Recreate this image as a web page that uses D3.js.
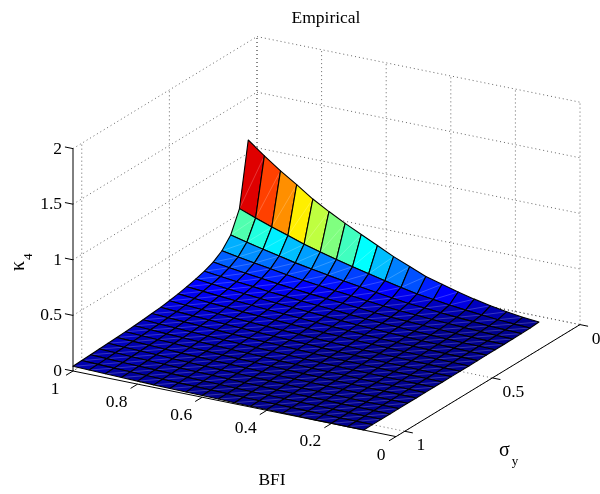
<!DOCTYPE html>
<meta charset='utf-8'>
<style>
  body { margin: 0; background: #fff; }
  svg { filter: blur(0.35px); }
  text { font-family: 'Liberation Serif', serif; fill: #000; }
</style>
<body>
<script src='https://d3js.org/d3.v7.min.js'></script>
<script>
  const bfiValues = [1, 0.95, 0.9, 0.85, 0.8, 0.75, 0.7, 0.65, 0.6, 0.55, 0.5, 0.45, 0.4, 0.35, 0.3, 0.25, 0.2, 0.15, 0.1];
  const sigmaValues = [0.05, 0.1, 0.15, 0.2, 0.25, 0.3, 0.35, 0.4, 0.45, 0.5, 0.55, 0.6, 0.65, 0.7, 0.75, 0.8, 0.85, 0.9, 0.95, 1, 1.05];

  // one row per sigma, one column per BFI
  const kappaValues = [
    [1.118, 1.005, 0.9, 0.805, 0.705, 0.622, 0.545, 0.475, 0.405, 0.335, 0.275, 0.215, 0.175, 0.135, 0.1, 0.07, 0.045, 0.025, 0.012],
    [0.549, 0.494, 0.442, 0.395, 0.346, 0.306, 0.268, 0.233, 0.199, 0.165, 0.135, 0.106, 0.086, 0.066, 0.049, 0.035, 0.022, 0.012, 0.006],
    [0.36, 0.324, 0.29, 0.259, 0.227, 0.201, 0.176, 0.153, 0.131, 0.108, 0.089, 0.069, 0.057, 0.044, 0.032, 0.023, 0.014, 0.008, 0.004],
    [0.266, 0.239, 0.214, 0.192, 0.168, 0.148, 0.13, 0.113, 0.097, 0.08, 0.065, 0.051, 0.042, 0.032, 0.024, 0.017, 0.011, 0.006, 0.003],
    [0.212, 0.191, 0.171, 0.153, 0.134, 0.118, 0.103, 0.09, 0.077, 0.064, 0.052, 0.041, 0.033, 0.026, 0.019, 0.013, 0.008, 0.005, 0.002],
    [0.178, 0.16, 0.143, 0.128, 0.112, 0.099, 0.087, 0.076, 0.065, 0.053, 0.044, 0.034, 0.028, 0.022, 0.016, 0.011, 0.007, 0.004, 0.002],
    [0.155, 0.14, 0.125, 0.112, 0.098, 0.086, 0.076, 0.066, 0.056, 0.047, 0.038, 0.03, 0.024, 0.019, 0.014, 0.01, 0.006, 0.003, 0.002],
    [0.135, 0.122, 0.109, 0.097, 0.085, 0.075, 0.066, 0.057, 0.049, 0.041, 0.033, 0.026, 0.021, 0.016, 0.012, 0.009, 0.005, 0.003, 0.001],
    [0.118, 0.106, 0.095, 0.085, 0.074, 0.066, 0.058, 0.05, 0.043, 0.035, 0.029, 0.023, 0.019, 0.014, 0.011, 0.007, 0.005, 0.003, 0.001],
    [0.104, 0.094, 0.084, 0.075, 0.066, 0.058, 0.051, 0.044, 0.038, 0.031, 0.026, 0.02, 0.016, 0.013, 0.009, 0.007, 0.004, 0.002, 0.001],
    [0.093, 0.084, 0.075, 0.067, 0.059, 0.052, 0.045, 0.04, 0.034, 0.028, 0.023, 0.018, 0.015, 0.011, 0.008, 0.006, 0.004, 0.002, 0.001],
    [0.085, 0.077, 0.069, 0.061, 0.054, 0.047, 0.041, 0.036, 0.031, 0.026, 0.021, 0.016, 0.013, 0.01, 0.008, 0.005, 0.003, 0.002, 0.001],
    [0.077, 0.069, 0.062, 0.055, 0.049, 0.043, 0.038, 0.033, 0.028, 0.023, 0.019, 0.015, 0.012, 0.009, 0.007, 0.005, 0.003, 0.002, 0.001],
    [0.071, 0.064, 0.057, 0.051, 0.045, 0.04, 0.035, 0.03, 0.026, 0.021, 0.017, 0.014, 0.011, 0.009, 0.006, 0.004, 0.003, 0.002, 0.001],
    [0.066, 0.059, 0.053, 0.048, 0.042, 0.037, 0.032, 0.028, 0.024, 0.02, 0.016, 0.013, 0.01, 0.008, 0.006, 0.004, 0.003, 0.001, 0.001],
    [0.062, 0.056, 0.05, 0.045, 0.039, 0.035, 0.03, 0.026, 0.023, 0.019, 0.015, 0.012, 0.01, 0.008, 0.006, 0.004, 0.002, 0.001, 0.001],
    [0.058, 0.052, 0.047, 0.042, 0.037, 0.032, 0.028, 0.025, 0.021, 0.017, 0.014, 0.011, 0.009, 0.007, 0.005, 0.004, 0.002, 0.001, 0.001],
    [0.054, 0.049, 0.044, 0.039, 0.034, 0.03, 0.026, 0.023, 0.02, 0.016, 0.013, 0.01, 0.008, 0.007, 0.005, 0.003, 0.002, 0.001, 0.001],
    [0.05, 0.045, 0.04, 0.036, 0.032, 0.028, 0.024, 0.021, 0.018, 0.015, 0.012, 0.01, 0.008, 0.006, 0.005, 0.003, 0.002, 0.001, 0.001],
    [0.046, 0.041, 0.037, 0.033, 0.029, 0.026, 0.022, 0.02, 0.017, 0.014, 0.011, 0.009, 0.007, 0.006, 0.004, 0.003, 0.002, 0.001, 0.001],
    [0.042, 0.038, 0.034, 0.03, 0.027, 0.023, 0.02, 0.018, 0.015, 0.013, 0.01, 0.008, 0.007, 0.005, 0.004, 0.003, 0.002, 0.001, 0.001]
  ];

  const bfiTicks = [1, 0.8, 0.6, 0.4, 0.2, 0];
  const sigmaTicks = [1, 0.5, 0];
  const kappaTicks = [0, 0.5, 1, 1.5, 2];

  const width = 600;
  const height = 494;
  const origin = { x: 73, y: 371 };

  // orthographic view: each data axis adds its own screen offset
  const bfiX = d3.scaleLinear().domain([1, 0]).range([0, 323]);
  const bfiY = d3.scaleLinear().domain([1, 0]).range([0, 65.6]);
  const sigmaX = d3.scaleLinear().domain([1.05, 0]).range([0, 184]);
  const sigmaY = d3.scaleLinear().domain([1.05, 0]).range([0, -112]);
  const kappaY = d3.scaleLinear().domain([0, 2]).range([0, -222.4]);

  const project = (b, s, k) => [
    origin.x + bfiX(b) + sigmaX(s),
    origin.y + bfiY(b) + sigmaY(s) + kappaY(k)
  ];

  // matlab jet(64), colour index taken from the bottom of each bin
  const jetPart = v => Math.max(0, Math.min(1, v));
  const jet = d3.range(64).map(i => {
    const v = (i + 1) / 64;
    return d3.rgb(
      255 * jetPart(1.5 - Math.abs(4 * v - 3)),
      255 * jetPart(1.5 - Math.abs(4 * v - 2)),
      255 * jetPart(1.5 - Math.abs(4 * v - 1))
    ).formatHex();
  });
  const color = d3.scaleQuantize()
    .domain([d3.min(kappaValues.flat()), d3.max(kappaValues.flat())])
    .range(jet);

  const svg = d3.select('body').append('svg')
    .attr('width', width)
    .attr('height', height);

  const line = d3.line();
  const grid = svg.append('g')
    .attr('fill', 'none')
    .attr('stroke', '#555')
    .attr('stroke-width', 0.9)
    .attr('stroke-dasharray', '1,3');

  function gridLine(from, to) {
    grid.append('path').attr('d', line([from, to]));
  }

  const sigmaEdge = sigmaX.domain()[0];
  const kappaTop = kappaY.domain()[1];

  // back walls and floor
  kappaTicks.forEach(k => {
    gridLine(project(1, sigmaEdge, k), project(1, 0, k));
    gridLine(project(1, 0, k), project(0, 0, k));
  });
  sigmaTicks.forEach(s => {
    gridLine(project(1, s, 0), project(1, s, kappaTop));
    gridLine(project(1, s, 0), project(0, s, 0));
  });
  bfiTicks.forEach(b => {
    gridLine(project(b, 0, 0), project(b, 0, kappaTop));
    gridLine(project(b, 0, 0), project(b, sigmaEdge, 0));
  });

  // cells, far corner first so the nearer ones paint over
  const cells = [];
  sigmaValues.slice(0, -1).forEach((s, j) => {
    bfiValues.slice(0, -1).forEach((b, i) => {
      cells.push({ i, j });
    });
  });

  const cell = svg.append('g').selectAll('g')
    .data(cells)
    .join('g');

  const corner = (i, j) => project(bfiValues[i], sigmaValues[j], kappaValues[j][i]);
  const cellPath = d => line([
    corner(d.i, d.j),
    corner(d.i + 1, d.j),
    corner(d.i + 1, d.j + 1),
    corner(d.i, d.j + 1)
  ]) + 'Z';

  cell.append('path')
    .attr('d', cellPath)
    .attr('fill', d => color(kappaValues[d.j][d.i + 1]))
    .attr('stroke', 'none');

  // the light seam across every face in the original, under the edges
  cell.append('path')
    .attr('d', d => line([corner(d.i, d.j + 1), corner(d.i + 1, d.j)]))
    .attr('stroke', '#fff')
    .attr('stroke-opacity', 0.3)
    .attr('stroke-width', 0.7);

  cell.append('path')
    .attr('d', cellPath)
    .attr('fill', 'none')
    .attr('stroke', '#000')
    .attr('stroke-width', 1.1)
    .attr('stroke-linejoin', 'round');

  // axes
  const axes = svg.append('g')
    .attr('fill', 'none')
    .attr('stroke', '#000')
    .attr('stroke-width', 1);

  axes.append('path').attr('d', line([project(1, sigmaEdge, 0), project(1, sigmaEdge, kappaTop)]));
  axes.append('path').attr('d', line([project(1, sigmaEdge, 0), project(0, sigmaEdge, 0)]));
  axes.append('path').attr('d', line([project(0, sigmaEdge, 0), project(0, 0, 0)]));

  kappaTicks.forEach(k => {
    axes.append('path').attr('d', line([project(1, sigmaEdge, k), project(1.025, sigmaEdge, k)]));
  });
  bfiTicks.forEach(b => {
    axes.append('path').attr('d', line([project(b, sigmaEdge, 0), project(b, sigmaEdge + 0.04, 0)]));
  });
  sigmaTicks.forEach(s => {
    axes.append('path').attr('d', line([project(0, s, 0), project(-0.025, s, 0)]));
  });

  const labels = svg.append('g').attr('font-size', 17.5);

  labels.selectAll('.k')
    .data(kappaTicks)
    .join('text')
    .attr('class', 'k')
    .attr('text-anchor', 'end')
    .attr('x', d => project(1, sigmaEdge, d)[0] - 11)
    .attr('y', d => project(1, sigmaEdge, d)[1] + 5)
    .text(d => d);

  labels.selectAll('.b')
    .data(bfiTicks)
    .join('text')
    .attr('class', 'b')
    .attr('text-anchor', 'middle')
    .attr('x', d => project(d, sigmaEdge, 0)[0] - (d === 1 ? 18 : d === 0 ? 15 : 21))
    .attr('y', d => project(d, sigmaEdge, 0)[1] + 23)
    .text(d => d);

  labels.selectAll('.s')
    .data(sigmaTicks)
    .join('text')
    .attr('class', 's')
    .attr('text-anchor', 'middle')
    .attr('x', d => project(0, d, 0)[0] + (d === 0.5 ? 21 : 16))
    .attr('y', d => project(0, d, 0)[1] + 19)
    .text(d => d);

  labels.append('text')
    .attr('x', 326)
    .attr('y', 23)
    .attr('text-anchor', 'middle')
    .text('Empirical');

  labels.append('text')
    .attr('x', 272)
    .attr('y', 485)
    .attr('text-anchor', 'middle')
    .text('BFI');

  const sigmaLabel = labels.append('text')
    .attr('x', 499)
    .attr('y', 456);
  sigmaLabel.append('tspan').attr('font-size', 20).text('σ');
  sigmaLabel.append('tspan').attr('dx', 2).attr('dy', 9).attr('font-size', 13).text('y');

  const kappaLabel = labels.append('text')
    .attr('transform', 'translate(24, 271) rotate(-90)');
  kappaLabel.append('tspan').attr('font-size', 20).text('κ');
  kappaLabel.append('tspan').attr('dx', 1).attr('dy', 8).attr('font-size', 13).text('4');
</script>
